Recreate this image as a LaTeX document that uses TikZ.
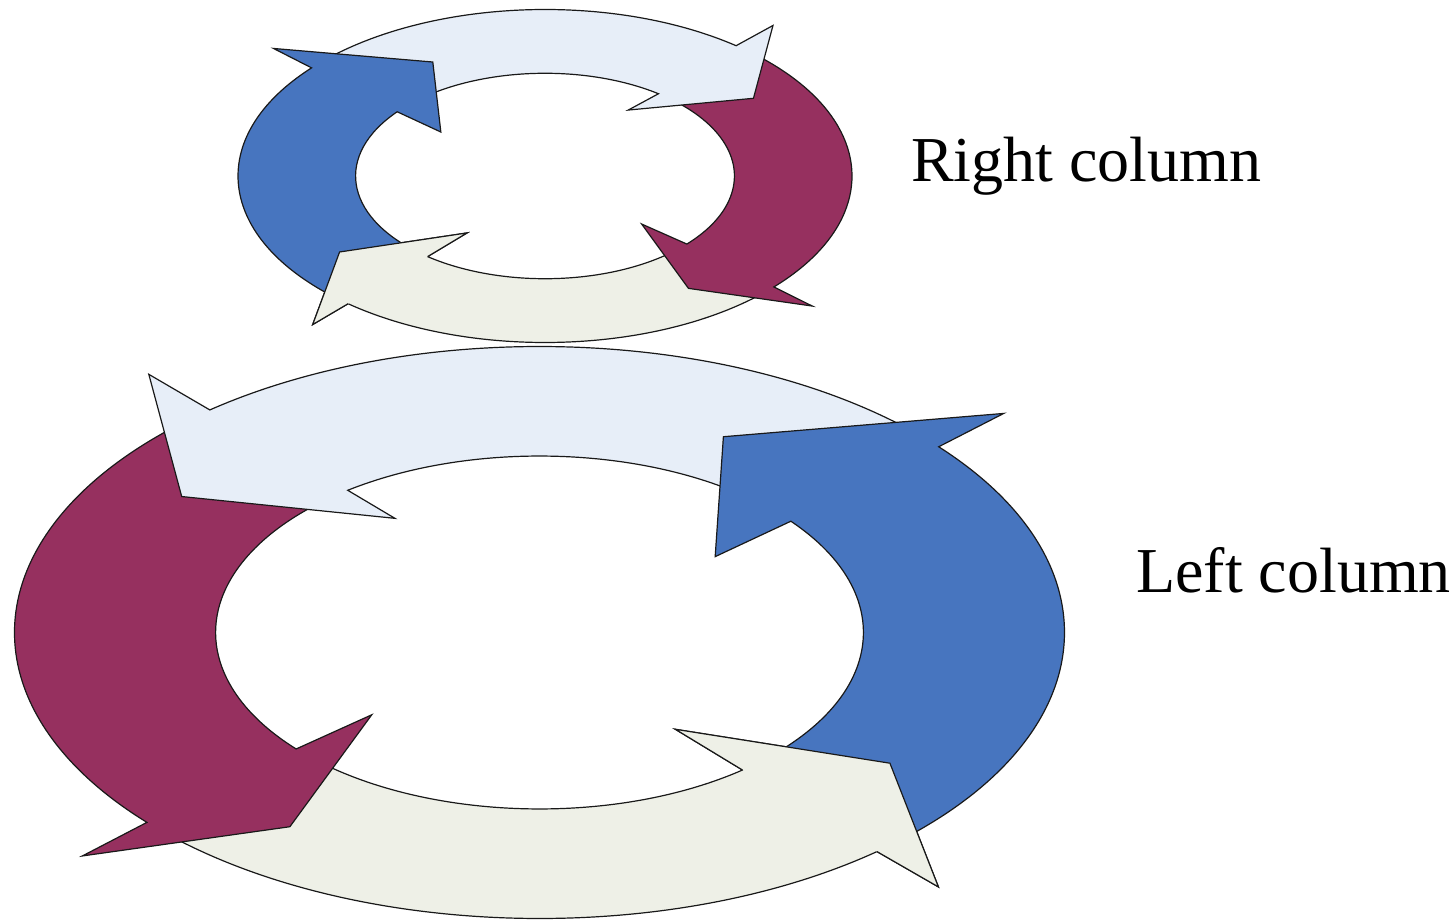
\documentclass[tikz,border=0pt]{standalone}
\usepackage{fontspec}
\setmainfont{Liberation Serif}
\usepackage{tikz}
\definecolor{cycblue}{HTML}{4775BF}
\definecolor{cycmaroon}{HTML}{96305F}
\definecolor{cyclight}{HTML}{E7EEF8}
\definecolor{cycgrey}{HTML}{EEF0E7}

% one curved block arrow of a ring:
% colour, tail, outer notch, outer barb, tip angle, tip radius, inner barb, its radius, inner notch
\newcommand{\ringarrow}[9]{%
  \filldraw[arrowband, fill=#1] (#2:1) arc[start angle=#2, end angle=#3, radius=1]
    -- (#4:1.17) -- (#5:#6) -- (#7:#8) -- (#9:0.617)
    arc[start angle=#9, end angle=#2, radius=0.617] -- cycle;}
% head only, painted again over the tail it covers
\newcommand{\ringhead}[8]{%
  \fill[fill=#1] (#2:1) -- (#3:1.17) -- (#4:#5) -- (#6:#7) -- (#8:0.617) -- cycle;
  \draw[arrowband] (#2:1) -- (#3:1.17) -- (#4:#5) -- (#6:#7) -- (#8:0.617);}

\begin{document}
\begin{tikzpicture}[x=1pt, y=1pt,
    arrowband/.style={draw=black!90, line width=1.2pt},
    lab/.style={font=\fontsize{64}{70}\selectfont, inner sep=0pt, anchor=base west},
  ]
  \useasboundingbox (0,0) rectangle (1455,922);
  % top ring, clockwise
  \begin{scope}[shift={(545,746)}, xscale=307, yscale=166.5]
    \ringarrow{cycgrey}{-45}{-129.9}{-130.3}{-145.7}{0.81}{-126.6}{0.426}{-128.3}
    \ringarrow{cycmaroon}{49}{-41.8}{-41.9}{-55.3}{0.821}{-42.5}{0.427}{-41.5}
    \ringarrow{cyclight}{136}{51.5}{50.6}{34.5}{0.824}{55.6}{0.48}{53.2}
    \ringarrow{cycblue}{228}{139.5}{139.1}{118.1}{0.776}{142.1}{0.43}{141.3}
    \ringhead{cycgrey}{-129.9}{-130.3}{-145.7}{0.81}{-126.6}{0.426}{-128.3}
  \end{scope}
  % bottom ring, anticlockwise
  \begin{scope}[shift={(539.5,289.5)}, xscale=525, yscale=286]
    \ringarrow{cycgrey}{225}{310}{310.5}{325.6}{0.809}{307.4}{0.426}{308.8}
    \ringarrow{cycmaroon}{130}{221.6}{221.9}{235}{0.829}{222}{0.43}{221.3}
    \ringarrow{cyclight}{45}{128.9}{129.5}{145.1}{0.831}{124.6}{0.485}{126.3}
    \ringarrow{cycblue}{-47}{40.5}{40.9}{62.9}{0.769}{38.4}{0.427}{39.1}
    \ringhead{cycgrey}{310}{310.5}{325.6}{0.809}{307.4}{0.426}{308.8}
  \end{scope}
  % Labels
  \node[lab] (rightcol) at (911,740) {Right column};
  \node[lab] (leftcol) at (1136,330) {Left column};
\end{tikzpicture}
\end{document}
